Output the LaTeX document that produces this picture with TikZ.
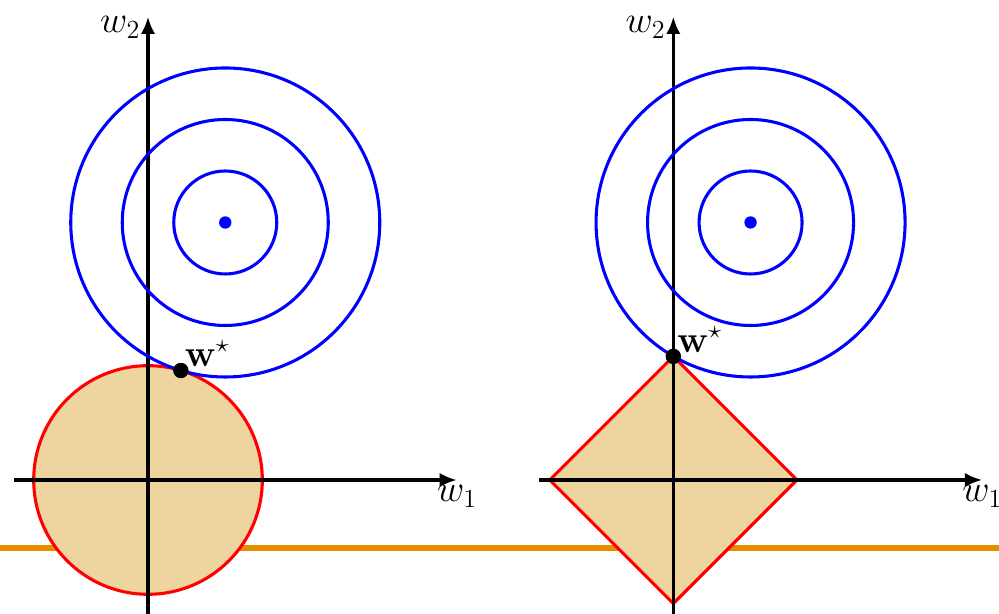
\documentclass[tikz,border=0pt]{standalone}
\usepackage{amsmath}
\usetikzlibrary{arrows.meta}
\begin{document}
\begin{tikzpicture}[>={Latex[length=3.4mm, width=2.8mm]}, line join=round]
  \definecolor{dorange}{HTML}{E68E00}
  \definecolor{dtan}{HTML}{EED49E}
  \tikzset{axis/.style={->, line width=2pt},
           level/.style={blue, line width=1.7pt},
           ball/.style={fill=dtan, draw=red, line width=1.7pt},
           lbl/.style={font=\fontsize{22}{26}\selectfont}}
  \useasboundingbox (-2.874,-2.583) rectangle (16.524,9.320);
  \draw[line width=3.8pt, dorange] (-2.874,-1.32) -- (16.524,-1.32);
  % L2 ball
  \draw[ball] (0,0) circle (2.22);
  \draw[axis] (-2.6,0) -- (6,0) node[lbl, below, inner sep=2pt] {$w_1$};
  \draw[axis] (0,-2.7) -- (0,9) node[lbl, left, yshift=-6pt] {$w_2$};
  \foreach \r in {1,2,3}
    \draw[level] (1.5,5) circle (\r);
  \fill[blue] (1.5,5) circle (0.12);
  \fill (0.638,2.126) circle (0.15) node[lbl, above right, inner sep=2pt] {$\mathbf{w}^\star$};
  % L1 ball
  \begin{scope}[xshift=10.2cm]
    \draw[ball] (-2.4,0) -- (0,2.4) -- (2.4,0) -- (0,-2.4) -- cycle;
    \draw[axis] (-2.6,0) -- (6,0) node[lbl, below, inner sep=2pt] {$w_1$};
    \draw[axis] (0,-2.7) -- (0,9) node[lbl, left, yshift=-6pt] {$w_2$};
    \foreach \r in {1,2,3}
      \draw[level] (1.5,5) circle (\r);
    \fill[blue] (1.5,5) circle (0.12);
    \fill (0,2.4) circle (0.15) node[lbl, above right, inner sep=2pt] {$\mathbf{w}^\star$};
  \end{scope}
\end{tikzpicture}
\end{document}
